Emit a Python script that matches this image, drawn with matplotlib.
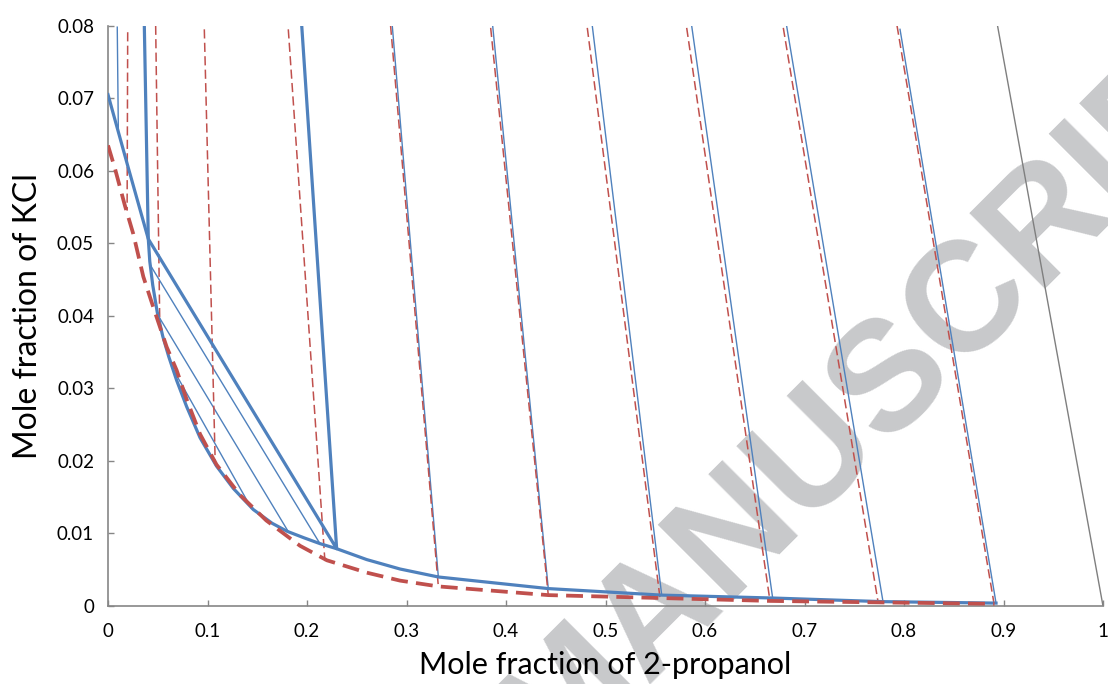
import matplotlib
matplotlib.use("Agg")
import matplotlib.pyplot as plt

# ---------------- data ----------------
# saturation / binodal curve (solid blue)
blue_x = [0, 0.02, 0.0405, 0.042, 0.045, 0.0495, 0.055, 0.061, 0.069, 0.079, 0.0925,
          0.109, 0.126, 0.146, 0.165, 0.180, 0.197, 0.213, 0.2298, 0.26, 0.2935, 0.332,
          0.4425, 0.5565, 0.668, 0.7789, 0.8925]
blue_y = [0.0705, 0.0606, 0.0506, 0.0475, 0.0442, 0.0405, 0.0372, 0.0344, 0.0311, 0.0275,
          0.0232, 0.0193, 0.0162, 0.0133, 0.0114, 0.0103, 0.0094, 0.0086, 0.0079, 0.0064,
          0.0051, 0.0040, 0.0024, 0.0015, 0.0011, 0.0006, 0.0004]

# model curve (dashed red)
red_x = [0, 0.007, 0.017, 0.0254, 0.0355, 0.0455, 0.059, 0.069, 0.079, 0.0925, 0.109,
         0.1327, 0.159, 0.193, 0.22, 0.26, 0.2935, 0.332, 0.4425, 0.5548, 0.6653, 0.774, 0.891]
red_y = [0.0635, 0.0603, 0.0552, 0.0513, 0.0454, 0.0412, 0.0357, 0.0325, 0.0285, 0.0237,
         0.0195, 0.0153, 0.0118, 0.0083, 0.0063, 0.0046, 0.0035, 0.0027, 0.0015, 0.0011,
         0.0007, 0.0005, 0.0003]

# three-phase region boundary (thick blue polyline)
tri_x = [0.0365, 0.0405, 0.2298, 0.1947]
tri_y = [0.080, 0.0506, 0.0079, 0.080]

# LLE tie lines (thin blue)
lle_x0 = [0.0425, 0.0506, 0.064]
lle_y0 = [0.0470, 0.0400, 0.0330]
lle_x1 = [0.213, 0.181, 0.144]
lle_y1 = [0.0086, 0.0103, 0.0135]

# experimental SLE tie lines (thin blue)
btie_x0 = [0.0093, 0.2857, 0.3866, 0.4867, 0.5866, 0.682, 0.796]
btie_y0 = [0.0798, 0.0800, 0.0800, 0.0800, 0.0800, 0.0800, 0.0795]
btie_x1 = [0.0104, 0.332, 0.4425, 0.5565, 0.668, 0.7789, 0.8925]
btie_y1 = [0.0655, 0.0040, 0.0024, 0.0015, 0.0011, 0.0006, 0.0004]

# model tie lines (thin dashed red)
rtie_x0 = [0.0198, 0.0479, 0.0968, 0.1812, 0.284, 0.3846, 0.4817, 0.5816, 0.6787, 0.793]
rtie_y0 = [0.0791, 0.0800, 0.0795, 0.0795, 0.0800, 0.0797, 0.0797, 0.0797, 0.0797, 0.0800]
rtie_x1 = [0.0192, 0.052, 0.1078, 0.218, 0.332, 0.4425, 0.5548, 0.6653, 0.774, 0.8905]
rtie_y1 = [0.0545, 0.0392, 0.0195, 0.0062, 0.0027, 0.0015, 0.0011, 0.0007, 0.0005, 0.0003]

# boundary line (gray)
gray_x = [0.894, 1.0]
gray_y = [0.080, 0.0]

x_ticks = [0, 0.1, 0.2, 0.3, 0.4, 0.5, 0.6, 0.7, 0.8, 0.9, 1.0]
x_ticklabels = ["0", "0.1", "0.2", "0.3", "0.4", "0.5", "0.6", "0.7", "0.8", "0.9", "1"]
y_ticks = [0, 0.01, 0.02, 0.03, 0.04, 0.05, 0.06, 0.07, 0.08]
y_ticklabels = ["0", "0.01", "0.02", "0.03", "0.04", "0.05", "0.06", "0.07", "0.08"]

BLUE = "#4F81BD"
RED = "#C0504D"
AXC = "#868686"

plt.rcParams["font.family"] = ["Lato", "DejaVu Sans"]

fig = plt.figure(figsize=(11.08, 6.84), dpi=100)
ax = fig.add_axes([108 / 1108, 1 - 606 / 684, 995 / 1108, (606 - 25.7) / 684])

# watermark
ax.text(891 / 1108, 1 - 375 / 684, "MANUSCRIPT", transform=fig.transFigure,
        rotation=45, ha="center", va="center", fontsize=112, fontweight="bold",
        family="Liberation Sans", color="#c8c9cb", zorder=0.5, clip_on=False)

# thin tie lines
for x0, y0, x1, y1 in zip(btie_x0, btie_y0, btie_x1, btie_y1):
    ax.plot([x0, x1], [y0, y1], color=BLUE, lw=1.0, zorder=2)
for x0, y0, x1, y1 in zip(lle_x0, lle_y0, lle_x1, lle_y1):
    ax.plot([x0, x1], [y0, y1], color=BLUE, lw=1.0, zorder=2)
for x0, y0, x1, y1 in zip(rtie_x0, rtie_y0, rtie_x1, rtie_y1):
    ax.plot([x0, x1], [y0, y1], color=RED, lw=1.1, dashes=(6, 2.8), zorder=2.2)

ax.plot(gray_x, gray_y, color="#7f7f7f", lw=1.0, zorder=2)

# main curves
ax.plot(blue_x, blue_y, color=BLUE, lw=2.3, zorder=3, solid_joinstyle="round")
ax.plot(tri_x, tri_y, color=BLUE, lw=2.3, zorder=3, solid_joinstyle="round")
ax.plot(red_x, red_y, color=RED, lw=2.7, dashes=(4.5, 2.2), zorder=3.2)

ax.set_xlim(0, 1)
ax.set_ylim(0, 0.08)
ax.set_xticks(x_ticks)
ax.set_xticklabels(x_ticklabels)
ax.set_yticks(y_ticks)
ax.set_yticklabels(y_ticklabels)

for s in ["top", "right"]:
    ax.spines[s].set_visible(False)
for s in ["left", "bottom"]:
    ax.spines[s].set_color(AXC)
    ax.spines[s].set_linewidth(1.2)
ax.tick_params(direction="in", length=4, width=1.0, color=AXC,
               labelsize=13.5, labelcolor="black")
ax.tick_params(axis="x", pad=12)
ax.tick_params(axis="y", pad=10)

ax.set_xlabel("Mole fraction of 2-propanol", fontsize=22, labelpad=8)
ax.set_ylabel("Mole fraction of KCl", fontsize=23, labelpad=10)

fig.savefig("out.png", dpi=100)
